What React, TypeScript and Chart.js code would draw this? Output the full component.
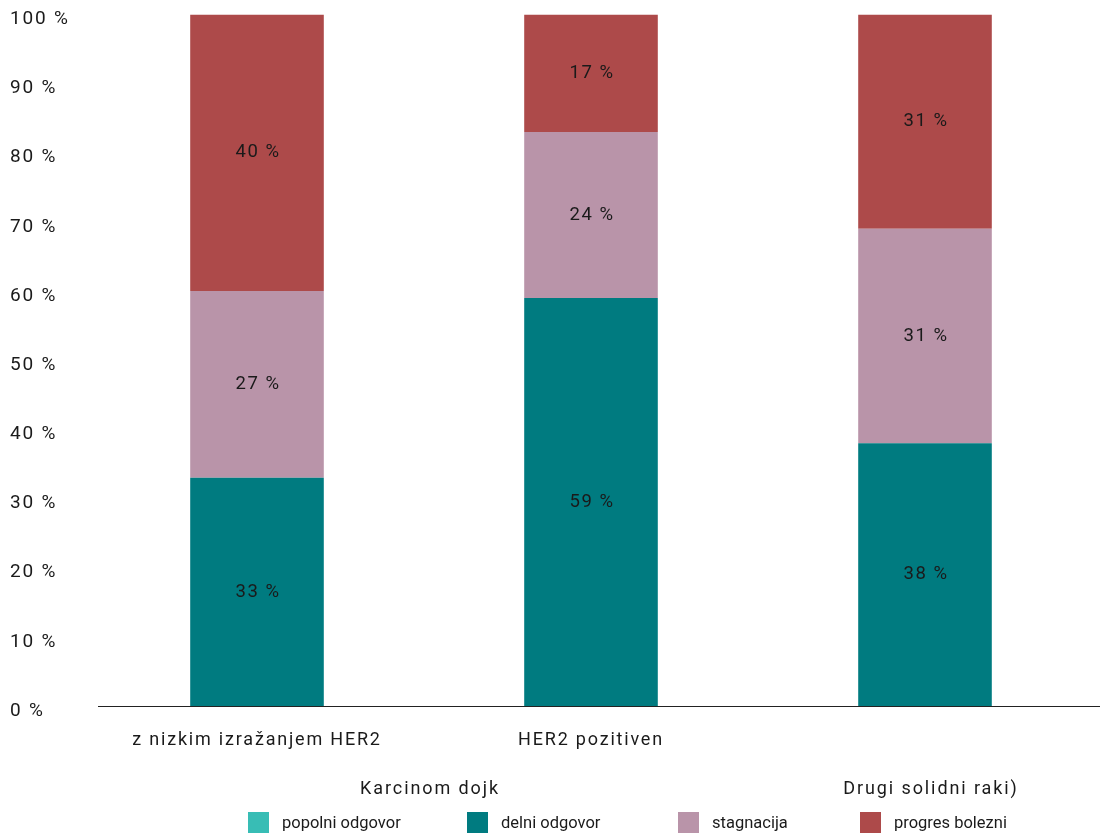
import React, { useEffect, useRef } from "react";
import { Chart, registerables } from "chart.js";

Chart.register(...registerables);

// Categories (tumour groups) and response shares in percent
const categories = ["z nizkim izražanjem HER2", "HER2 pozitiven", ""];
const groupLabels = ["Karcinom dojk", "Drugi solidni raki)"];
const seriesNames = ["popolni odgovor", "delni odgovor", "stagnacija", "progres bolezni"];
const popolniOdgovor = [0, 0, 0];
const delniOdgovor = [33, 59, 38];
const stagnacija = [27, 24, 31];
const progresBolezni = [40, 17, 31];
const yTicks = [0, 10, 20, 30, 40, 50, 60, 70, 80, 90, 100];

const colors = ["#38bdb5", "#007b80", "#b994a9", "#ad4a4a"];
const FONT = "Roboto, 'DejaVu Sans', sans-serif";
const TEXT = "#1a1a1a";

// Wider tracking for the axis labels
const tracking = {
  id: "tracking",
  beforeDraw(chart: any) {
    (chart.ctx as any).letterSpacing = "1.8px";
  },
};

// Writes "NN %" into the middle of every non-empty segment
const segmentLabels = {
  id: "segmentLabels",
  afterDatasetsDraw(chart: any) {
    const ctx = chart.ctx;
    ctx.save();
    ctx.letterSpacing = "1.5px";
    ctx.font = `18.5px ${FONT}`;
    ctx.fillStyle = TEXT;
    ctx.textAlign = "center";
    ctx.textBaseline = "middle";
    chart.data.datasets.forEach((ds: any, di: number) => {
      const meta = chart.getDatasetMeta(di);
      meta.data.forEach((bar: any, i: number) => {
        const v = ds.data[i];
        if (!v) return;
        const p = bar.getProps(["x", "y", "base"], true);
        ctx.fillText(`${v} %`, p.x + 1, (p.y + p.base) / 2);
      });
    });
    ctx.restore();
  },
};

// Baseline under the bars and the group captions below the category labels
const axisAndGroups = {
  id: "axisAndGroups",
  afterDraw(chart: any) {
    const ctx = chart.ctx;
    const x = chart.scales.x;
    const y0 = chart.scales.y.getPixelForValue(0);
    ctx.save();
    ctx.strokeStyle = "#222";
    ctx.lineWidth = 1.2;
    ctx.beginPath();
    ctx.moveTo(98, y0 + 0.5);
    ctx.lineTo(chart.width, y0 + 0.5);
    ctx.stroke();

    ctx.letterSpacing = "1.9px";
    ctx.font = `18px ${FONT}`;
    ctx.fillStyle = TEXT;
    ctx.textAlign = "center";
    ctx.textBaseline = "middle";
    const mid01 = (x.getPixelForValue(0) + x.getPixelForValue(1)) / 2;
    ctx.fillText(groupLabels[0], mid01 + 6, 789);
    ctx.fillText(groupLabels[1], x.getPixelForValue(2) + 6, 789);
    ctx.restore();
  },
};

const legendLefts = [248, 467, 678, 860];

export default function App() {
  const ref = useRef<HTMLCanvasElement>(null);

  useEffect(() => {
    if (!ref.current) return;
    const seriesData = [popolniOdgovor, delniOdgovor, stagnacija, progresBolezni];
    const chart = new Chart(ref.current, {
      type: "bar",
      data: {
        labels: categories,
        datasets: seriesNames.map((name, i) => ({
          label: name,
          data: seriesData[i],
          backgroundColor: colors[i],
          borderWidth: 0,
          barPercentage: 0.4,
          categoryPercentage: 1,
        })),
      },
      options: {
        responsive: false,
        animation: false,
        layout: { padding: { top: 14, left: 10, right: 8, bottom: 0 } },
        plugins: {
          legend: { display: false },
          tooltip: { enabled: false },
        },
        scales: {
          x: {
            stacked: true,
            grid: { display: false, drawTicks: false },
            border: { display: false },
            ticks: {
              font: { family: FONT, size: 18 },
              color: TEXT,
              padding: 24,
              maxRotation: 0,
              autoSkip: false,
            },
            afterFit(scale: any) {
              scale.height = 127;
            },
          },
          y: {
            stacked: true,
            min: 0,
            max: 100,
            afterBuildTicks(scale: any) {
              scale.ticks = yTicks.map((v) => ({ value: v }));
            },
            grid: { display: false, drawTicks: false },
            border: { display: false },
            ticks: {
              font: { family: FONT, size: 19 },
              color: TEXT,
              crossAlign: "far",
              labelOffset: 5,
              callback: (v: any) => `${v} %`,
            },
            afterFit(scale: any) {
              scale.width = 80;
            },
          },
        },
      },
      plugins: [tracking, segmentLabels, axisAndGroups],
    });
    return () => chart.destroy();
  }, []);

  return (
    <div style={{ position: "absolute", left: 0, top: 0, width: 1100, height: 833, background: "#fff", overflow: "hidden" }}>
      <canvas ref={ref} width={1100} height={833} style={{ display: "block" }} />
      {seriesNames.map((name, i) => (
        <div
          key={name}
          style={{
            position: "absolute",
            left: legendLefts[i],
            top: 812,
            display: "flex",
            alignItems: "center",
            fontFamily: FONT,
            fontSize: 16.5,
            color: TEXT,
            whiteSpace: "nowrap",
          }}
        >
          <span style={{ display: "inline-block", width: 21, height: 21, background: colors[i], marginRight: 13 }} />
          <span>{name}</span>
        </div>
      ))}
    </div>
  );
}
